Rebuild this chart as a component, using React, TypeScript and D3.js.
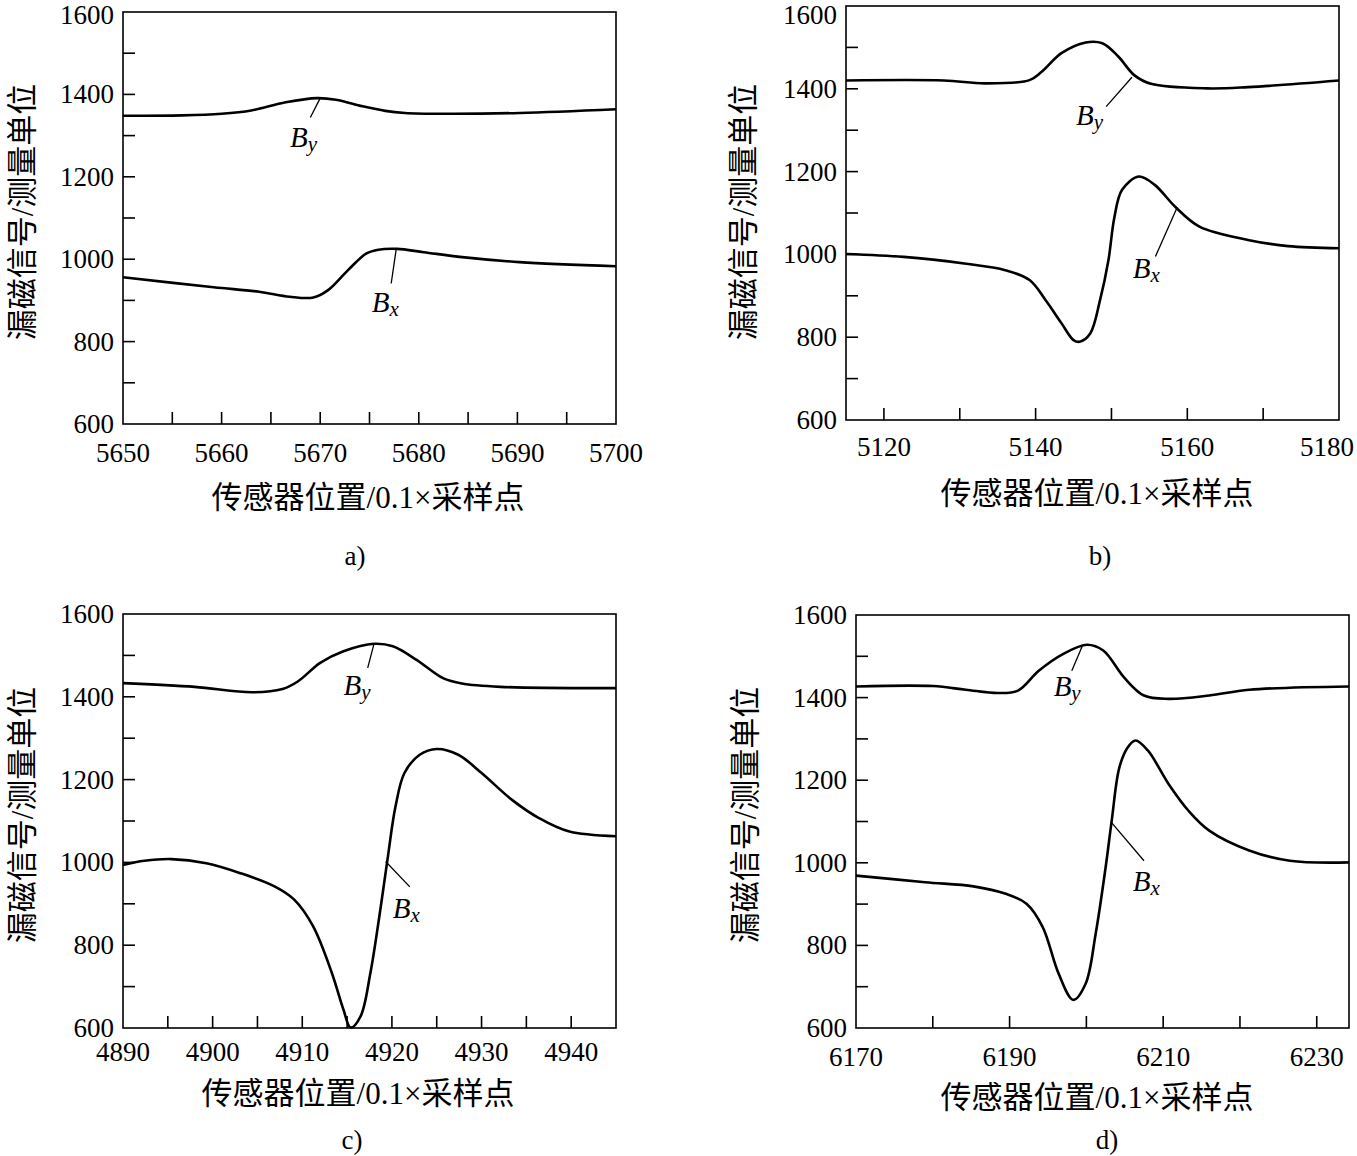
import React from 'react';
import * as d3 from 'd3';

// ---------- shared axis values ----------
const yTickValues = [600, 700, 800, 900, 1000, 1100, 1200, 1300, 1400, 1500, 1600];
const yTickLabels = [600, 800, 1000, 1200, 1400, 1600];
const yTitle = '漏磁信号/测量单位';
const xTitle = '传感器位置/0.1×采样点';

// ---------- panel a ----------
const aXTicks = [5655, 5660, 5665, 5670, 5675, 5680, 5685, 5690, 5695];
const aXLabels = [5650, 5660, 5670, 5680, 5690, 5700];
const aBy: [number, number][] = [
  [5650, 1348], [5656, 1349], [5660, 1353], [5663, 1361], [5666.5, 1381],
  [5669.7, 1391], [5671.6, 1387], [5674.3, 1371], [5676.6, 1360], [5678.6, 1355],
  [5682.4, 1353], [5690.2, 1355], [5700, 1364],
];
const aBx: [number, number][] = [
  [5650, 956], [5659.2, 932], [5663.8, 921], [5666.9, 909], [5669.3, 907],
  [5670.8, 925], [5672.8, 973], [5674.7, 1014], [5675.9, 1023], [5677.8, 1025],
  [5680.5, 1017], [5684.4, 1005], [5690.2, 993], [5700, 983],
];

// ---------- panel b ----------
const bXTicks = [5120, 5130, 5140, 5150, 5160, 5170];
const bXLabels = [5120, 5140, 5160, 5180];
const bBy: [number, number][] = [
  [5115, 1420], [5127.9, 1420], [5133.3, 1413], [5139.2, 1421], [5140.8, 1441],
  [5143.4, 1486], [5146.6, 1512], [5148.8, 1510], [5150.9, 1478], [5153.0, 1433],
  [5155.2, 1412], [5162.6, 1401], [5168.0, 1404], [5180, 1420],
];
const bBx: [number, number][] = [
  [5115, 1001], [5122.6, 994], [5130.6, 978], [5136.0, 962], [5139.2, 938],
  [5141.3, 890], [5143.4, 834], [5145.0, 793], [5145.8, 789], [5147.2, 809],
  [5148.5, 890], [5149.6, 986], [5150.4, 1091], [5151.4, 1156], [5153.6, 1188],
  [5155.7, 1168], [5158.4, 1115], [5161.6, 1067], [5168.0, 1035], [5173.3, 1020],
  [5180, 1015],
];

// ---------- panel c ----------
const cXTicks = [4895, 4900, 4905, 4910, 4915, 4920, 4925, 4930, 4935, 4940];
const cXLabels = [4890, 4900, 4910, 4920, 4930, 4940];
const cBy: [number, number][] = [
  [4890, 1433], [4898.0, 1424], [4904.4, 1411], [4907.8, 1419], [4909.5, 1437],
  [4912.0, 1482], [4914.6, 1510], [4918.0, 1528], [4920.1, 1522], [4922.7, 1490],
  [4925.7, 1445], [4927.8, 1432], [4932.1, 1424], [4945, 1421],
];
const cBx: [number, number][] = [
  [4890, 994], [4892.4, 1004], [4895.4, 1008], [4899.3, 998], [4903.1, 974],
  [4906.9, 942], [4909.1, 910], [4911.2, 846], [4913.3, 733], [4914.6, 644],
  [4915.4, 601], [4916.5, 628], [4917.6, 733], [4918.6, 870], [4919.5, 1006],
  [4920.4, 1135], [4921.4, 1216], [4923.1, 1260], [4925.0, 1274], [4927.4, 1260],
  [4930.0, 1216], [4933.4, 1151], [4936.4, 1107], [4939.7, 1075], [4945, 1063],
];

// ---------- panel d ----------
const dXTicks = [6180, 6190, 6200, 6210, 6220, 6230];
const dXLabels = [6170, 6190, 6210, 6230];
const dBy: [number, number][] = [
  [6170, 1427], [6180.0, 1428], [6184.3, 1419], [6188.5, 1411], [6191.1, 1417],
  [6193.8, 1465], [6197.0, 1506], [6200.1, 1528], [6202.2, 1514], [6204.9, 1449],
  [6207.5, 1405], [6210.7, 1397], [6216.0, 1405], [6221.2, 1419], [6234.2, 1427],
];
const dBx: [number, number][] = [
  [6170, 969], [6179.0, 953], [6185.3, 943], [6189.5, 925], [6192.2, 901],
  [6194.3, 845], [6196.4, 731], [6198.3, 668], [6199.9, 707], [6201.2, 827],
  [6202.5, 988], [6203.3, 1102], [6204.3, 1231], [6205.4, 1280], [6206.4, 1296],
  [6208.0, 1272], [6210.7, 1191], [6213.3, 1126], [6216.0, 1078], [6221.2, 1030],
  [6226.5, 1005], [6234.2, 1001],
];

// annotation: [labelX, labelV, leaderX1, leaderV1, leaderX2, leaderV2]
const aByNote = [5668.3, 1297, 5669.0, 1344, 5670.0, 1391];
const aBxNote = [5676.6, 897, 5677.2, 941, 5677.7, 1023];
const bByNote = [5147.1, 1337, 5149.3, 1357, 5152.7, 1428];
const bBxNote = [5154.6, 967, 5155.8, 995, 5158.6, 1111];
const cByNote = [4916.1, 1429, 4917.3, 1470, 4918.0, 1528];
const cBxNote = [4921.6, 890, 4922.0, 941, 4919.3, 1002];
const dByNote = [6197.5, 1427, 6198.1, 1465, 6199.5, 1526];
const dBxNote = [6207.8, 957, 6207.5, 1005, 6203.2, 1099];

const FONT = "'Liberation Serif', 'Times New Roman', serif";
const CJK = "'Liberation Serif', 'Noto Sans CJK SC', serif";

type PanelProps = {
  left: number; right: number; top: number; bottom: number;
  xDomain: [number, number];
  xTicks: number[]; xLabels: number[];
  by: [number, number][]; bx: [number, number][];
  byNote: number[]; bxNote: number[];
  xLabelDy: number;
  xTitleX: number; xTitleY: number;
  yTitleX: number; yTitleY: number;
  caption: string; capX: number; capY: number;
  lastLabelEnd?: number;
};

function Note({ note, sub, x, y }: { note: number[]; sub: string; x: any; y: any }) {
  const [lx, lv, x1, v1, x2, v2] = note;
  return (
    <g>
      <line x1={x(x1)} y1={y(v1)} x2={x(x2)} y2={y(v2)} stroke="#000" strokeWidth={1.3} />
      <text x={x(lx)} y={y(lv)} textAnchor="middle" dominantBaseline="central"
        fontFamily={FONT} fontSize={29} fontStyle="italic">
        B<tspan dy={7} fontSize={21}>{sub}</tspan>
      </text>
    </g>
  );
}

function Panel(p: PanelProps) {
  const x = d3.scaleLinear().domain(p.xDomain).range([p.left, p.right]);
  const y = d3.scaleLinear().domain([600, 1600]).range([p.bottom, p.top]);
  const line = d3.line<[number, number]>()
    .x((d) => x(d[0]))
    .y((d) => y(d[1]))
    .curve(d3.curveCatmullRom.alpha(0.5));
  const tickLen = 12;
  return (
    <g>
      <rect x={p.left} y={p.top} width={p.right - p.left} height={p.bottom - p.top}
        fill="none" stroke="#000" strokeWidth={1.6} />
      {yTickValues.slice(1, -1).map((v) => (
        <line key={'yt' + v} x1={p.left} x2={p.left + tickLen} y1={y(v)} y2={y(v)}
          stroke="#000" strokeWidth={1.6} />
      ))}
      {yTickLabels.map((v) => (
        <text key={'yl' + v} x={p.left - 9} y={Math.max(y(v), 15)} textAnchor="end" dominantBaseline="central"
          fontFamily={FONT} fontSize={27}>{v}</text>
      ))}
      {p.xTicks.map((v) => (
        <line key={'xt' + v} x1={x(v)} x2={x(v)} y1={p.bottom} y2={p.bottom - tickLen}
          stroke="#000" strokeWidth={1.6} />
      ))}
      {p.xLabels.map((v, i) => {
        const isLast = i === p.xLabels.length - 1 && p.lastLabelEnd !== undefined;
        return (
          <text key={'xl' + v} x={isLast ? p.lastLabelEnd : x(v)} y={p.bottom + p.xLabelDy}
            textAnchor={isLast ? 'end' : 'middle'} dominantBaseline="central"
            fontFamily={FONT} fontSize={27}>{v}</text>
        );
      })}
      <path d={line(p.by) || ''} fill="none" stroke="#000" strokeWidth={2.6} strokeLinejoin="round" />
      <path d={line(p.bx) || ''} fill="none" stroke="#000" strokeWidth={2.6} strokeLinejoin="round" />
      <Note note={p.byNote} sub="y" x={x} y={y} />
      <Note note={p.bxNote} sub="x" x={x} y={y} />
      <text x={p.xTitleX} y={p.xTitleY} textAnchor="middle" dominantBaseline="central"
        fontFamily={CJK} fontSize={31}>{xTitle}</text>
      <text transform={`translate(${p.yTitleX},${p.yTitleY}) rotate(-90)`} textAnchor="middle"
        dominantBaseline="central" fontFamily={CJK} fontSize={31}>{yTitle}</text>
      <text x={p.capX} y={p.capY} textAnchor="middle" dominantBaseline="central"
        fontFamily={FONT} fontSize={27}>{p.caption}</text>
    </g>
  );
}

export default function App() {
  return (
    <svg width={1357} height={1156} style={{ position: 'absolute', left: 0, top: 0, background: '#fff' }}>
      <rect x={0} y={0} width={1357} height={1156} fill="#fff" />
      <Panel left={123} right={616} top={12} bottom={424} xDomain={[5650, 5700]}
        xTicks={aXTicks} xLabels={aXLabels} by={aBy} bx={aBx} byNote={aByNote} bxNote={aBxNote}
        xLabelDy={29} xTitleX={368} xTitleY={497} yTitleX={22} yTitleY={212}
        caption="a)" capX={355} capY={556} />
      <Panel left={846} right={1339} top={6} bottom={420} xDomain={[5115, 5180]}
        xTicks={bXTicks} xLabels={bXLabels} by={bBy} bx={bBx} byNote={bByNote} bxNote={bBxNote}
        xLabelDy={27} xTitleX={1097} xTitleY={493} yTitleX={743} yTitleY={212}
        caption="b)" capX={1100} capY={556} lastLabelEnd={1354} />
      <Panel left={123} right={616} top={614} bottom={1028} xDomain={[4890, 4945]}
        xTicks={cXTicks} xLabels={cXLabels} by={cBy} bx={cBx} byNote={cByNote} bxNote={cBxNote}
        xLabelDy={24} xTitleX={358} xTitleY={1093} yTitleX={22} yTitleY={815}
        caption="c)" capX={352} capY={1140} />
      <Panel left={856} right={1349} top={615} bottom={1028} xDomain={[6170, 6234.2]}
        xTicks={dXTicks} xLabels={dXLabels} by={dBy} bx={dBx} byNote={dByNote} bxNote={dBxNote}
        xLabelDy={29} xTitleX={1097} xTitleY={1097} yTitleX={745} yTitleY={815}
        caption="d)" capX={1107} capY={1140} />
    </svg>
  );
}
